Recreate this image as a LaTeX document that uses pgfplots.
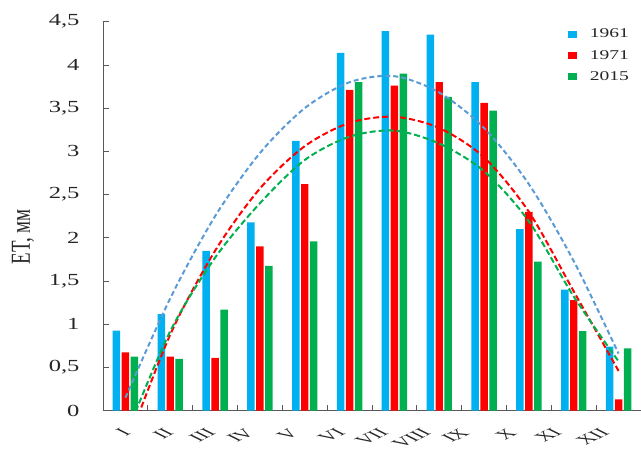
\documentclass[border=0pt]{standalone}
\usepackage{graphicx}
\usepackage{pgfplots}
\pgfplotsset{compat=1.18}
\usepackage{fontspec}
\setmainfont{Liberation Serif}[FakeStretch=1.45]
\newfontfamily\plainserif{Liberation Serif}
\definecolor{cblue}{HTML}{00B0F0}
\definecolor{cred}{HTML}{FF0000}
\definecolor{cgreen}{HTML}{00B050}
\definecolor{tblue}{HTML}{5B9BD5}
\definecolor{axgray}{HTML}{595959}
\definecolor{txt}{HTML}{262626}
\newcommand{\rl}[2]{\scalebox{2}[1]{\rotatebox{45}{\plainserif\fontsize{12.5}{12.5}\selectfont #1}}\hspace*{#2bp}}
\begin{document}
\begin{tikzpicture}
\begin{axis}[
  name=ax,
  scale only axis, width=538bp, height=389bp,
  xmin=0.5, xmax=12.5, ymin=0, ymax=4.5,
  axis x line*=bottom, axis y line*=left,
  axis line style={-, draw=axgray, line width=0.8bp},
  tick align=inside,
  major tick length=6bp, minor tick length=6bp,
  tick style={draw=axgray, line width=0.8bp},
  ytick={0,0.5,1,1.5,2,2.5,3,3.5,4,4.5},
  xtick={1,2,3,4,5,6,7,8,9,10,11,12},
  xticklabels={\rl{I}{0.5},\rl{II}{2.3},\rl{III}{5.2},\rl{IV}{10.8},\rl{V}{11.8},\rl{VI}{9.6},\rl{VII}{11.5},\rl{VIII}{13.7},\rl{IX}{20.5},\rl{X}{18},\rl{XI}{17.5},\rl{XII}{15}},
  minor xtick={1.5,2.5,3.5,4.5,5.5,6.5,7.5,8.5,9.5,10.5,11.5},
  major x tick style={draw=none},
  /pgf/number format/.cd, use comma, 1000 sep={}, assume math mode=true,
  /pgfplots/.cd,
  yticklabel style={font=\fontsize{17}{17}\selectfont, text=txt, xshift=-20bp},
  xticklabel style={text=txt, anchor=north east, inner sep=0pt, xshift=7bp, yshift=-17bp},
  ylabel={\plainserif\fontsize{19}{19}\selectfont\scalebox{1}[1.45]{ET, мм}},
  ylabel style={at={(axis description cs:-0.1487,0.447)}, anchor=center, text=txt},
  legend style={draw=none, fill=none, at={(axis description cs:1,1)}, anchor=north east,
     xshift=-7bp, yshift=-3bp, font=\fontsize{13.5}{13.5}\selectfont, text=txt, row sep=7bp,
     /tikz/every odd column/.append style={column sep=11bp}},
  legend cell align=left,
  legend image code/.code={\path[#1,draw=none] (0bp,-3.5bp) rectangle (9bp,3.5bp);},
]
\addplot[ybar, bar width=0.167, bar shift=-0.2, fill=cblue, draw=none] coordinates {
 (1,0.926) (2,1.116) (3,1.85) (4,2.18) (5,3.12) (6,4.14) (7,4.39) (8,4.35) (9,3.80) (10,2.10) (11,1.40) (12,0.74)};
\addlegendentry{1961}
\addplot[ybar, bar width=0.167, bar shift=0, fill=cred, draw=none] coordinates {
 (1,0.676) (2,0.625) (3,0.61) (4,1.90) (5,2.62) (6,3.71) (7,3.76) (8,3.80) (9,3.56) (10,2.30) (11,1.28) (12,0.13)};
\addlegendentry{1971}
\addplot[ybar, bar width=0.167, bar shift=0.2, fill=cgreen, draw=none] coordinates {
 (1,0.625) (2,0.60) (3,1.17) (4,1.675) (5,1.96) (6,3.80) (7,3.90) (8,3.63) (9,3.47) (10,1.725) (11,0.92) (12,0.72)};
\addlegendentry{2015}
\addplot[tblue, line width=2bp, dash pattern=on 5bp off 3bp, smooth, mark=none, forget plot] coordinates {
 (1,0.15) (2,1.30) (3,2.25) (4,2.98) (5,3.50) (6,3.80) (7,3.87) (8,3.68) (9,3.27) (10,2.62) (11,1.73) (12,0.66)};
\addplot[cred, line width=2bp, dash pattern=on 6bp off 3bp, smooth, mark=none, forget plot] coordinates {
 (1,-0.45) (2,0.88) (3,1.85) (4,2.57) (5,3.06) (6,3.33) (7,3.40) (8,3.27) (9,2.93) (10,2.30) (11,1.38) (12,0.46)};
\addplot[cgreen, line width=2bp, dash pattern=on 6bp off 3bp, smooth, mark=none, forget plot] coordinates {
 (1,-0.30) (2,0.92) (3,1.77) (4,2.40) (5,2.90) (6,3.17) (7,3.24) (8,3.09) (9,2.77) (10,2.19) (11,1.32) (12,0.57)};
\end{axis}
\pgfresetboundingbox
\path ([xshift=-103bp,yshift=-42.3bp]ax.south west) rectangle ([yshift=21.7bp]ax.north east);
\end{tikzpicture}
\end{document}
